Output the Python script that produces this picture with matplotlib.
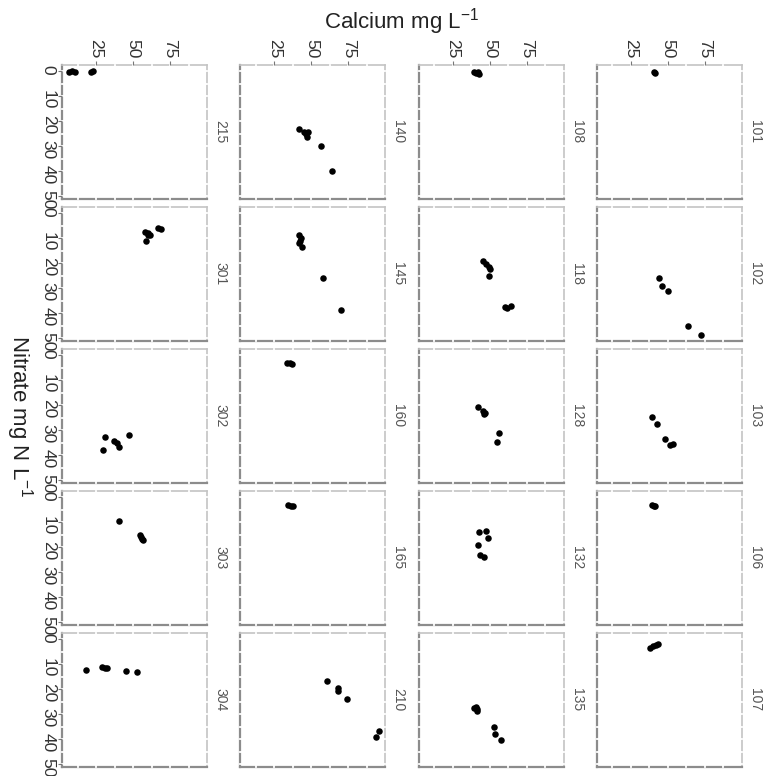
import matplotlib
matplotlib.use("Agg")
import matplotlib.pyplot as plt
import numpy as np

plt.rcParams["font.family"] = ["Liberation Sans", "DejaVu Sans"]
plt.rcParams["mathtext.default"] = "regular"

# long format: one entry per sample (site, calcium mg/L, nitrate mg N/L)
site = [101, 101,
        102, 102, 102, 102, 102,
        103, 103, 103, 103, 103,
        106, 106, 106,
        107, 107, 107, 107,
        108, 108, 108, 108,
        118, 118, 118, 118, 118, 118, 118, 118,
        128, 128, 128, 128, 128, 128,
        132, 132, 132, 132, 132, 132,
        135, 135, 135, 135, 135, 135, 135,
        140, 140, 140, 140, 140, 140, 140,
        145, 145, 145, 145, 145, 145, 145,
        160, 160, 160,
        165, 165, 165,
        210, 210, 210, 210, 210, 210,
        215, 215, 215, 215, 215,
        301, 301, 301, 301, 301, 301, 301,
        302, 302, 302, 302, 302, 302,
        303, 303, 303, 303, 303,
        304, 304, 304, 304, 304, 304]
calcium = [40.5, 41.2,
           43.9, 45.7, 50.1, 63.5, 72.1,
           39.5, 42.8, 47.9, 51.7, 53.2,
           39.0, 40.3, 41.3,
           38.0, 40.0, 42.0, 43.2,
           39.3, 40.8, 42.2, 43.0,
           45.2, 47.8, 49.4, 50.5, 49.4, 60.6, 64.4, 61.7,
           42.3, 45.6, 46.7, 46.0, 56.6, 54.9,
           43.0, 47.8, 48.9, 42.3, 43.8, 46.3,
           40.6, 41.7, 39.5, 41.3, 53.2, 53.9, 57.6,
           41.5, 45.0, 46.5, 48.0, 47.0, 56.5, 63.8,
           41.5, 43.0, 42.0, 43.7, 42.3, 57.7, 70.0,
           33.9, 35.4, 37.0,
           34.3, 36.1, 37.7,
           60.5, 68.0, 68.3, 73.8, 95.7, 93.5,
           7.0, 9.0, 11.0, 21.5, 23.0,
           58.3, 59.9, 61.2, 60.1, 67.2, 69.0, 58.8,
           31.0, 37.0, 39.0, 40.5, 47.0, 30.0,
           40.8, 54.5, 55.3, 56.0, 56.7,
           18.4, 29.2, 31.0, 32.1, 45.5, 52.7]
nitrate = [0.3, 0.6,
           26.1, 29.1, 31.1, 45.1, 48.7,
           24.9, 27.6, 33.6, 36.1, 35.6,
           3.2, 3.6, 3.4,
           3.5, 2.8, 2.2, 1.9,
           0.4, 0.9, 0.5, 1.0,
           19.0, 20.4, 21.7, 22.2, 25.0, 37.6, 37.2, 37.8,
           20.6, 22.4, 23.1, 23.7, 31.1, 34.8,
           13.9, 13.5, 16.3, 19.1, 23.3, 24.0,
           27.3, 27.9, 27.6, 28.7, 35.1, 37.9, 40.5,
           23.0, 24.5, 25.2, 24.2, 26.2, 29.9, 40.0,
           8.9, 9.8, 12.0, 13.5, 11.0, 26.0, 38.9,
           3.1, 3.3, 3.7,
           3.3, 3.7, 3.6,
           16.9, 19.6, 20.7, 24.0, 36.9, 39.2,
           0.2, 0.1, 0.3, 0.2, 0.1,
           7.4, 8.9, 8.6, 7.8, 6.1, 6.4, 11.1,
           32.7, 34.3, 35.0, 36.6, 31.9, 38.0,
           9.7, 15.3, 16.0, 16.9, 17.3,
           12.2, 11.0, 11.4, 11.7, 12.9, 13.2]

ca_ticks = [25, 50, 75]
no3_ticks = [0, 10, 20, 30, 40, 50]

site = np.array(site)
calcium = np.array(calcium)
nitrate = np.array(nitrate)
sites = sorted(set(site))

W, H = 767, 776
fig = plt.figure(figsize=(W / 100, H / 100), dpi=100)

for k, s in enumerate(sites):
    col = 3 - k // 5
    row = k % 5
    left = 62 + col * 178.3
    top = 65 + row * 142
    ax = fig.add_axes([left / W, 1 - (top + 134) / H, 145 / W, 134 / H])
    m = site == s
    ax.scatter(calcium[m], nitrate[m], s=22, c="black", linewidths=0, zorder=3)
    ax.set_xlim(2, 100)
    ax.set_ylim(51.1, -2.4)

    ax.set_xticks(ca_ticks)
    ax.set_xticks([12.5, 37.5, 62.5, 87.5], minor=True)
    ax.set_yticks(no3_ticks)
    ax.set_yticks([5, 15, 25, 35, 45], minor=True)
    ax.xaxis.tick_top()

    # white grid over the border gives the broken frame look
    ax.set_axisbelow(True)
    ax.grid(True, which="both", color="white", lw=1.3)
    ticks = (ax.xaxis.get_major_ticks() + ax.xaxis.get_minor_ticks()
             + ax.yaxis.get_major_ticks() + ax.yaxis.get_minor_ticks())
    for t in ticks:
        t.gridline.set_clip_on(False)
        t.gridline.set_solid_capstyle("projecting")

    for side in ["top", "right"]:
        ax.spines[side].set_color("#c4c4c4")
        ax.spines[side].set_linewidth(1.2)
        ax.spines[side].set_zorder(0.2)
    for side in ["left", "bottom"]:
        ax.spines[side].set_color("#8c8c8c")
        ax.spines[side].set_linewidth(1.6)
        ax.spines[side].set_zorder(0.2)

    ax.tick_params(which="minor", length=0)
    if row == 0:
        ax.tick_params(axis="x", which="major", length=3, width=0.8, color="#777777",
                       labelrotation=-90, labelsize=12.5, labelcolor="#333333", pad=1.5)
    else:
        ax.tick_params(axis="x", which="major", length=0, labeltop=False)
    if col == 0:
        ax.tick_params(axis="y", which="major", length=3, width=0.8, color="#777777",
                       labelrotation=-90, labelsize=12.5, labelcolor="#333333", pad=1.5)
    else:
        ax.tick_params(axis="y", which="major", length=0, labelleft=False)

    ax.text(1 + 13 / 145, 0.5, str(s), transform=ax.transAxes, rotation=-90,
            ha="center", va="center", fontsize=10, color="#555555")

fig.text(402 / W, 1 - 22 / H, "Calcium mg L$^{-1}$", ha="center", va="center",
         fontsize=16, color="#222222")
fig.text(19 / W, 1 - 416 / H, "Nitrate mg N L$^{-1}$", rotation=-90, ha="center",
         va="center", fontsize=16, color="#222222")

fig.savefig("out.png", dpi=100)
